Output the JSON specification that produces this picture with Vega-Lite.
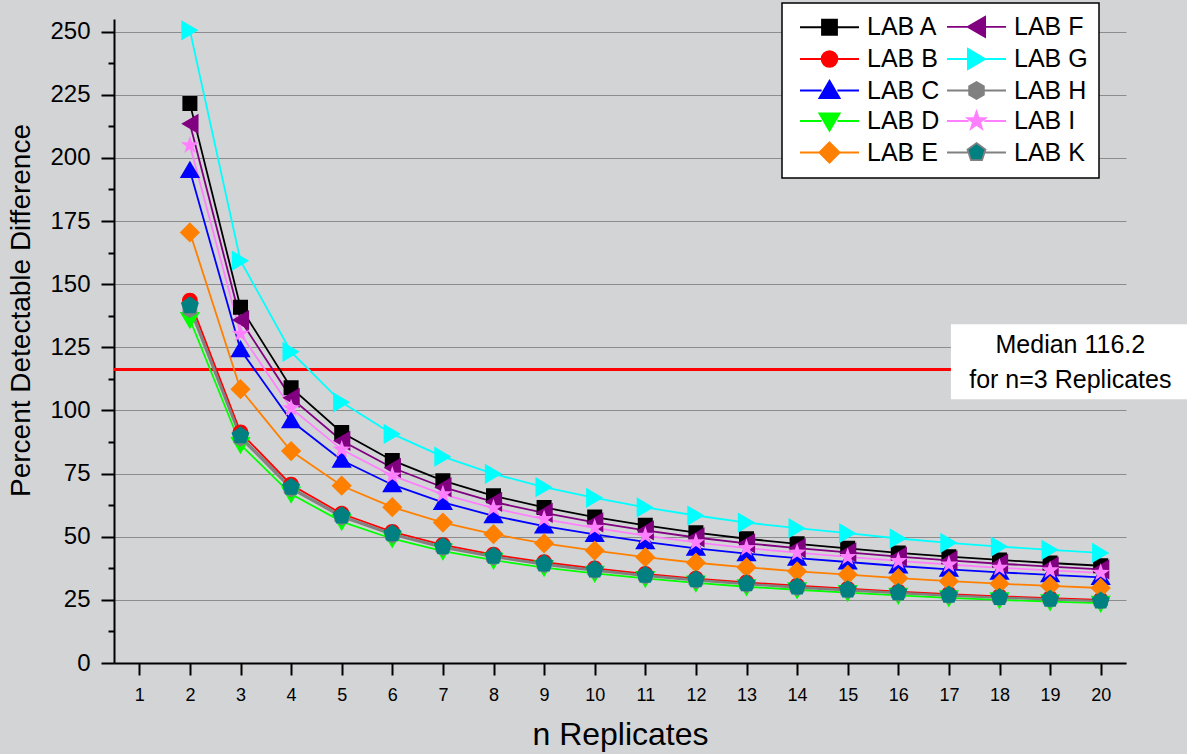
{
  "$schema": "https://vega.github.io/schema/vega-lite/v6.json",
  "width": 1012,
  "height": 644,
  "autosize": {"type": "none"},
  "padding": {"left": 114, "top": 19, "right": 61, "bottom": 91},
  "background": "#d3d4d6",
  "config": {"view": {"stroke": null}, "font": "Liberation Sans"},
  "data": {
    "values": [
      {"n": 2, "LAB A": 221.5, "LAB B": 143.5, "LAB C": 195, "LAB D": 136, "LAB E": 170.5, "LAB F": 213.5, "LAB G": 250.5, "LAB H": 140, "LAB I": 205, "LAB K": 141.5},
      {"n": 3, "LAB A": 140.9, "LAB B": 91.3, "LAB C": 124.0, "LAB D": 86.5, "LAB E": 108.4, "LAB F": 135.8, "LAB G": 159.3, "LAB H": 89.0, "LAB I": 130.4, "LAB K": 90.0},
      {"n": 4, "LAB A": 109.0, "LAB B": 70.6, "LAB C": 95.9, "LAB D": 66.9, "LAB E": 83.9, "LAB F": 105.0, "LAB G": 123.2, "LAB H": 68.9, "LAB I": 100.9, "LAB K": 69.6},
      {"n": 5, "LAB A": 91.3, "LAB B": 59.1, "LAB C": 80.3, "LAB D": 56.0, "LAB E": 70.2, "LAB F": 88.0, "LAB G": 103.2, "LAB H": 57.7, "LAB I": 84.5, "LAB K": 58.3},
      {"n": 6, "LAB A": 80.2, "LAB B": 51.9, "LAB C": 70.6, "LAB D": 49.2, "LAB E": 61.7, "LAB F": 77.3, "LAB G": 90.7, "LAB H": 50.7, "LAB I": 74.2, "LAB K": 51.2},
      {"n": 7, "LAB A": 72.2, "LAB B": 46.8, "LAB C": 63.6, "LAB D": 44.3, "LAB E": 55.6, "LAB F": 69.6, "LAB G": 81.7, "LAB H": 45.6, "LAB I": 66.8, "LAB K": 46.1},
      {"n": 8, "LAB A": 66.2, "LAB B": 42.9, "LAB C": 58.3, "LAB D": 40.7, "LAB E": 51.0, "LAB F": 63.8, "LAB G": 74.9, "LAB H": 41.9, "LAB I": 61.3, "LAB K": 42.3},
      {"n": 9, "LAB A": 61.6, "LAB B": 39.9, "LAB C": 54.2, "LAB D": 37.8, "LAB E": 47.4, "LAB F": 59.4, "LAB G": 69.6, "LAB H": 38.9, "LAB I": 57.0, "LAB K": 39.3},
      {"n": 10, "LAB A": 57.8, "LAB B": 37.5, "LAB C": 50.9, "LAB D": 35.5, "LAB E": 44.5, "LAB F": 55.7, "LAB G": 65.4, "LAB H": 36.5, "LAB I": 53.5, "LAB K": 36.9},
      {"n": 11, "LAB A": 54.5, "LAB B": 35.3, "LAB C": 48.0, "LAB D": 33.5, "LAB E": 41.9, "LAB F": 52.5, "LAB G": 61.6, "LAB H": 34.4, "LAB I": 50.4, "LAB K": 34.8},
      {"n": 12, "LAB A": 51.6, "LAB B": 33.4, "LAB C": 45.4, "LAB D": 31.7, "LAB E": 39.7, "LAB F": 49.7, "LAB G": 58.4, "LAB H": 32.6, "LAB I": 47.8, "LAB K": 33.0},
      {"n": 13, "LAB A": 49.2, "LAB B": 31.9, "LAB C": 43.3, "LAB D": 30.2, "LAB E": 37.9, "LAB F": 47.4, "LAB G": 55.6, "LAB H": 31.1, "LAB I": 45.5, "LAB K": 31.4},
      {"n": 14, "LAB A": 47.2, "LAB B": 30.6, "LAB C": 41.5, "LAB D": 29.0, "LAB E": 36.3, "LAB F": 45.5, "LAB G": 53.4, "LAB H": 29.8, "LAB I": 43.7, "LAB K": 30.1},
      {"n": 15, "LAB A": 45.4, "LAB B": 29.4, "LAB C": 40.0, "LAB D": 27.9, "LAB E": 35.0, "LAB F": 43.8, "LAB G": 51.4, "LAB H": 28.7, "LAB I": 42.0, "LAB K": 29.0},
      {"n": 16, "LAB A": 43.6, "LAB B": 28.3, "LAB C": 38.4, "LAB D": 26.8, "LAB E": 33.6, "LAB F": 42.1, "LAB G": 49.3, "LAB H": 27.6, "LAB I": 40.4, "LAB K": 27.9},
      {"n": 17, "LAB A": 42.1, "LAB B": 27.3, "LAB C": 37.1, "LAB D": 25.8, "LAB E": 32.4, "LAB F": 40.6, "LAB G": 47.6, "LAB H": 26.6, "LAB I": 39.0, "LAB K": 26.9},
      {"n": 18, "LAB A": 40.8, "LAB B": 26.4, "LAB C": 35.9, "LAB D": 25.0, "LAB E": 31.4, "LAB F": 39.3, "LAB G": 46.1, "LAB H": 25.8, "LAB I": 37.7, "LAB K": 26.0},
      {"n": 19, "LAB A": 39.6, "LAB B": 25.7, "LAB C": 34.9, "LAB D": 24.3, "LAB E": 30.5, "LAB F": 38.2, "LAB G": 44.8, "LAB H": 25.1, "LAB I": 36.7, "LAB K": 25.3},
      {"n": 20, "LAB A": 38.5, "LAB B": 25.0, "LAB C": 33.9, "LAB D": 23.7, "LAB E": 29.7, "LAB F": 37.1, "LAB G": 43.6, "LAB H": 24.4, "LAB I": 35.7, "LAB K": 24.6}
    ]
  },
  "resolve": {"axis": {"y": "independent"}},
  "layer": [
    {
      "data": {"values": [{"median": 116.2}]},
      "mark": {"type": "rule", "color": "#ff0000", "strokeWidth": 3},
      "encoding": {
        "y": {"field": "median", "type": "quantitative", "scale": {"domain": [0, 255], "nice": false}, "axis": null}
      }
    },
    {
      "transform": [{"fold": ["LAB A", "LAB B", "LAB C", "LAB D", "LAB E", "LAB F", "LAB G", "LAB H", "LAB I", "LAB K"], "as": ["lab", "v"]}],
      "mark": {"type": "line", "strokeWidth": 1.8},
      "encoding": {
        "x": {
          "field": "n", "type": "quantitative",
          "scale": {"domain": [0.5, 20.5], "nice": false, "zero": false},
          "axis": {
            "values": [1, 2, 3, 4, 5, 6, 7, 8, 9, 10, 11, 12, 13, 14, 15, 16, 17, 18, 19, 20],
            "title": "n Replicates", "titleFontSize": 32, "titleFontWeight": "normal", "titleColor": "black", "titlePadding": 15,
            "labelFontSize": 18, "labelColor": "black", "labelPadding": 11, "labelFlush": false,
            "tickSize": 12, "tickWidth": 2, "tickColor": "black",
            "domainColor": "black", "domainWidth": 2, "grid": false
          }
        },
        "y": {
          "field": "v", "type": "quantitative",
          "scale": {"domain": [0, 255], "nice": false},
          "axis": {
            "orient": "left",
            "values": [0, 25, 50, 75, 100, 125, 150, 175, 200, 225, 250],
            "title": "Percent Detectable Difference", "titleFontSize": 28, "titleFontWeight": "normal", "titleColor": "black", "titlePadding": 14, "titleY": 291,
            "labelFontSize": 24, "labelColor": "black", "labelPadding": 11, "labelFlush": false,
            "tickSize": 13, "tickWidth": 2, "tickColor": "black",
            "domainColor": "black", "domainWidth": 2,
            "grid": true, "gridColor": "#8c8c8c", "gridWidth": 1.2
          }
        },
        "color": {
          "field": "lab", "type": "nominal",
          "scale": {
            "domain": ["LAB A", "LAB B", "LAB C", "LAB D", "LAB E", "LAB F", "LAB G", "LAB H", "LAB I", "LAB K"],
            "range": ["#000000", "#ff0000", "#0000ff", "#00ff00", "#ff8000", "#800080", "#00ffff", "#808080", "#ff80ff", "#808080"]
          },
          "legend": {
            "orient": "none", "legendX": 668, "legendY": -16,
            "columns": 2, "direction": "vertical", "title": null,
            "fillColor": "white", "strokeColor": "black", "padding": 11,
            "labelFontSize": 25, "labelFont": "Liberation Sans", "labelColor": "black", "labelOffset": 25, "labelLimit": 300,
            "symbolSize": 225, "symbolStrokeWidth": 1.8, "symbolOffset": 24,
            "rowPadding": 3.5, "columnPadding": 0,
            "encode": {
              "symbols": {"update": {"strokeWidth": {"value": 1.8}, "opacity": {"value": 1}}},
              "legend": {"update": {"strokeWidth": {"value": 1.5}}}
            }
          }
        }
      }
    },
    {
      "transform": [{"fold": ["LAB A", "LAB B", "LAB C", "LAB D", "LAB E", "LAB F", "LAB G", "LAB H", "LAB I", "LAB K"], "as": ["lab", "v"]}],
      "mark": {"type": "point", "filled": true, "opacity": 1, "size": 225, "strokeWidth": 0},
      "encoding": {
        "x": {"field": "n", "type": "quantitative", "scale": {"domain": [0.5, 20.5], "nice": false, "zero": false}},
        "y": {"field": "v", "type": "quantitative", "scale": {"domain": [0, 255], "nice": false}, "axis": null},
        "fill": {
          "field": "lab", "type": "nominal",
          "scale": {
            "domain": ["LAB A", "LAB B", "LAB C", "LAB D", "LAB E", "LAB F", "LAB G", "LAB H", "LAB I", "LAB K"],
            "range": ["#000000", "#ff0000", "#0000ff", "#00ff00", "#ff8000", "#800080", "#00ffff", "#808080", "#ff80ff", "#008080"]
          },
          "legend": null
        },
        "shape": {
          "field": "lab", "type": "nominal",
          "scale": {
            "domain": ["LAB A", "LAB B", "LAB C", "LAB D", "LAB E", "LAB F", "LAB G", "LAB H", "LAB I", "LAB K"],
            "range": [
              "M-3.93,0H-1.05M1.05,0H3.93M-1,-1H1V1H-1Z",
              "M-3.93,0H-1.05M1.05,0H3.93M-1.05,0A1.05,1.05 0 1,0 1.05,0A1.05,1.05 0 1,0 -1.05,0Z",
              "M-3.93,0H-1.05M1.05,0H3.93M0,-1.3L1.35,1L-1.35,1Z",
              "M-3.93,0H-1.05M1.05,0H3.93M0,1.3L1.35,-1L-1.35,-1Z",
              "M-3.93,0H-1.05M1.05,0H3.93M0,-1.35L1.35,0L0,1.35L-1.35,0Z",
              "M-3.93,0H-1.05M1.05,0H3.93M-1.15,0L1.15,-1.35V1.35Z",
              "M-3.93,0H-1.05M1.05,0H3.93M1.15,0L-1.15,-1.35V1.35Z",
              "M-3.93,0H-1.05M1.05,0H3.93M0,-1.13L0.98,-0.565V0.565L0,1.13L-0.98,0.565V-0.565Z",
              "M-3.93,0H-1.05M1.05,0H3.93M0,-1.27L0.294,-0.405L1.208,-0.392L0.476,0.155L0.746,1.027L0,0.5L-0.746,1.027L-0.476,0.155L-1.208,-0.392L-0.294,-0.405Z",
              "M-3.93,0H-1.05M1.05,0H3.93M0,-1.26L1.198,-0.389L0.741,1.019L-0.741,1.019L-1.198,-0.389Z"
            ]
          },
          "legend": null
        }
      }
    },
    {
      "data": {"values": [{"x1": 17.04, "x2": 21.9, "y1": 104.4, "y2": 134.1}]},
      "mark": {"type": "rect", "fill": "white", "clip": false},
      "encoding": {
        "x": {"field": "x1", "type": "quantitative", "scale": {"domain": [0.5, 20.5], "nice": false, "zero": false}},
        "x2": {"field": "x2"},
        "y": {
          "field": "y1", "type": "quantitative", "scale": {"domain": [0, 255], "nice": false},
          "axis": {
            "orient": "left",
            "values": [12.5, 37.5, 62.5, 87.5, 112.5, 137.5, 162.5, 187.5, 212.5, 237.5],
            "labels": false, "grid": false, "domain": false, "title": null,
            "tickSize": 6, "tickWidth": 2, "tickColor": "black"
          }
        },
        "y2": {"field": "y2"}
      }
    },
    {
      "data": {"values": [{"x": 19.4, "y": 125.8, "t": "Median 116.2"}, {"x": 19.4, "y": 111.9, "t": "for n=3 Replicates"}]},
      "mark": {"type": "text", "fontSize": 25, "align": "center", "baseline": "middle", "color": "black", "clip": false},
      "encoding": {
        "x": {"field": "x", "type": "quantitative", "scale": {"domain": [0.5, 20.5], "nice": false, "zero": false}},
        "y": {"field": "y", "type": "quantitative", "scale": {"domain": [0, 255], "nice": false}, "axis": null},
        "text": {"field": "t"}
      }
    }
  ]
}
